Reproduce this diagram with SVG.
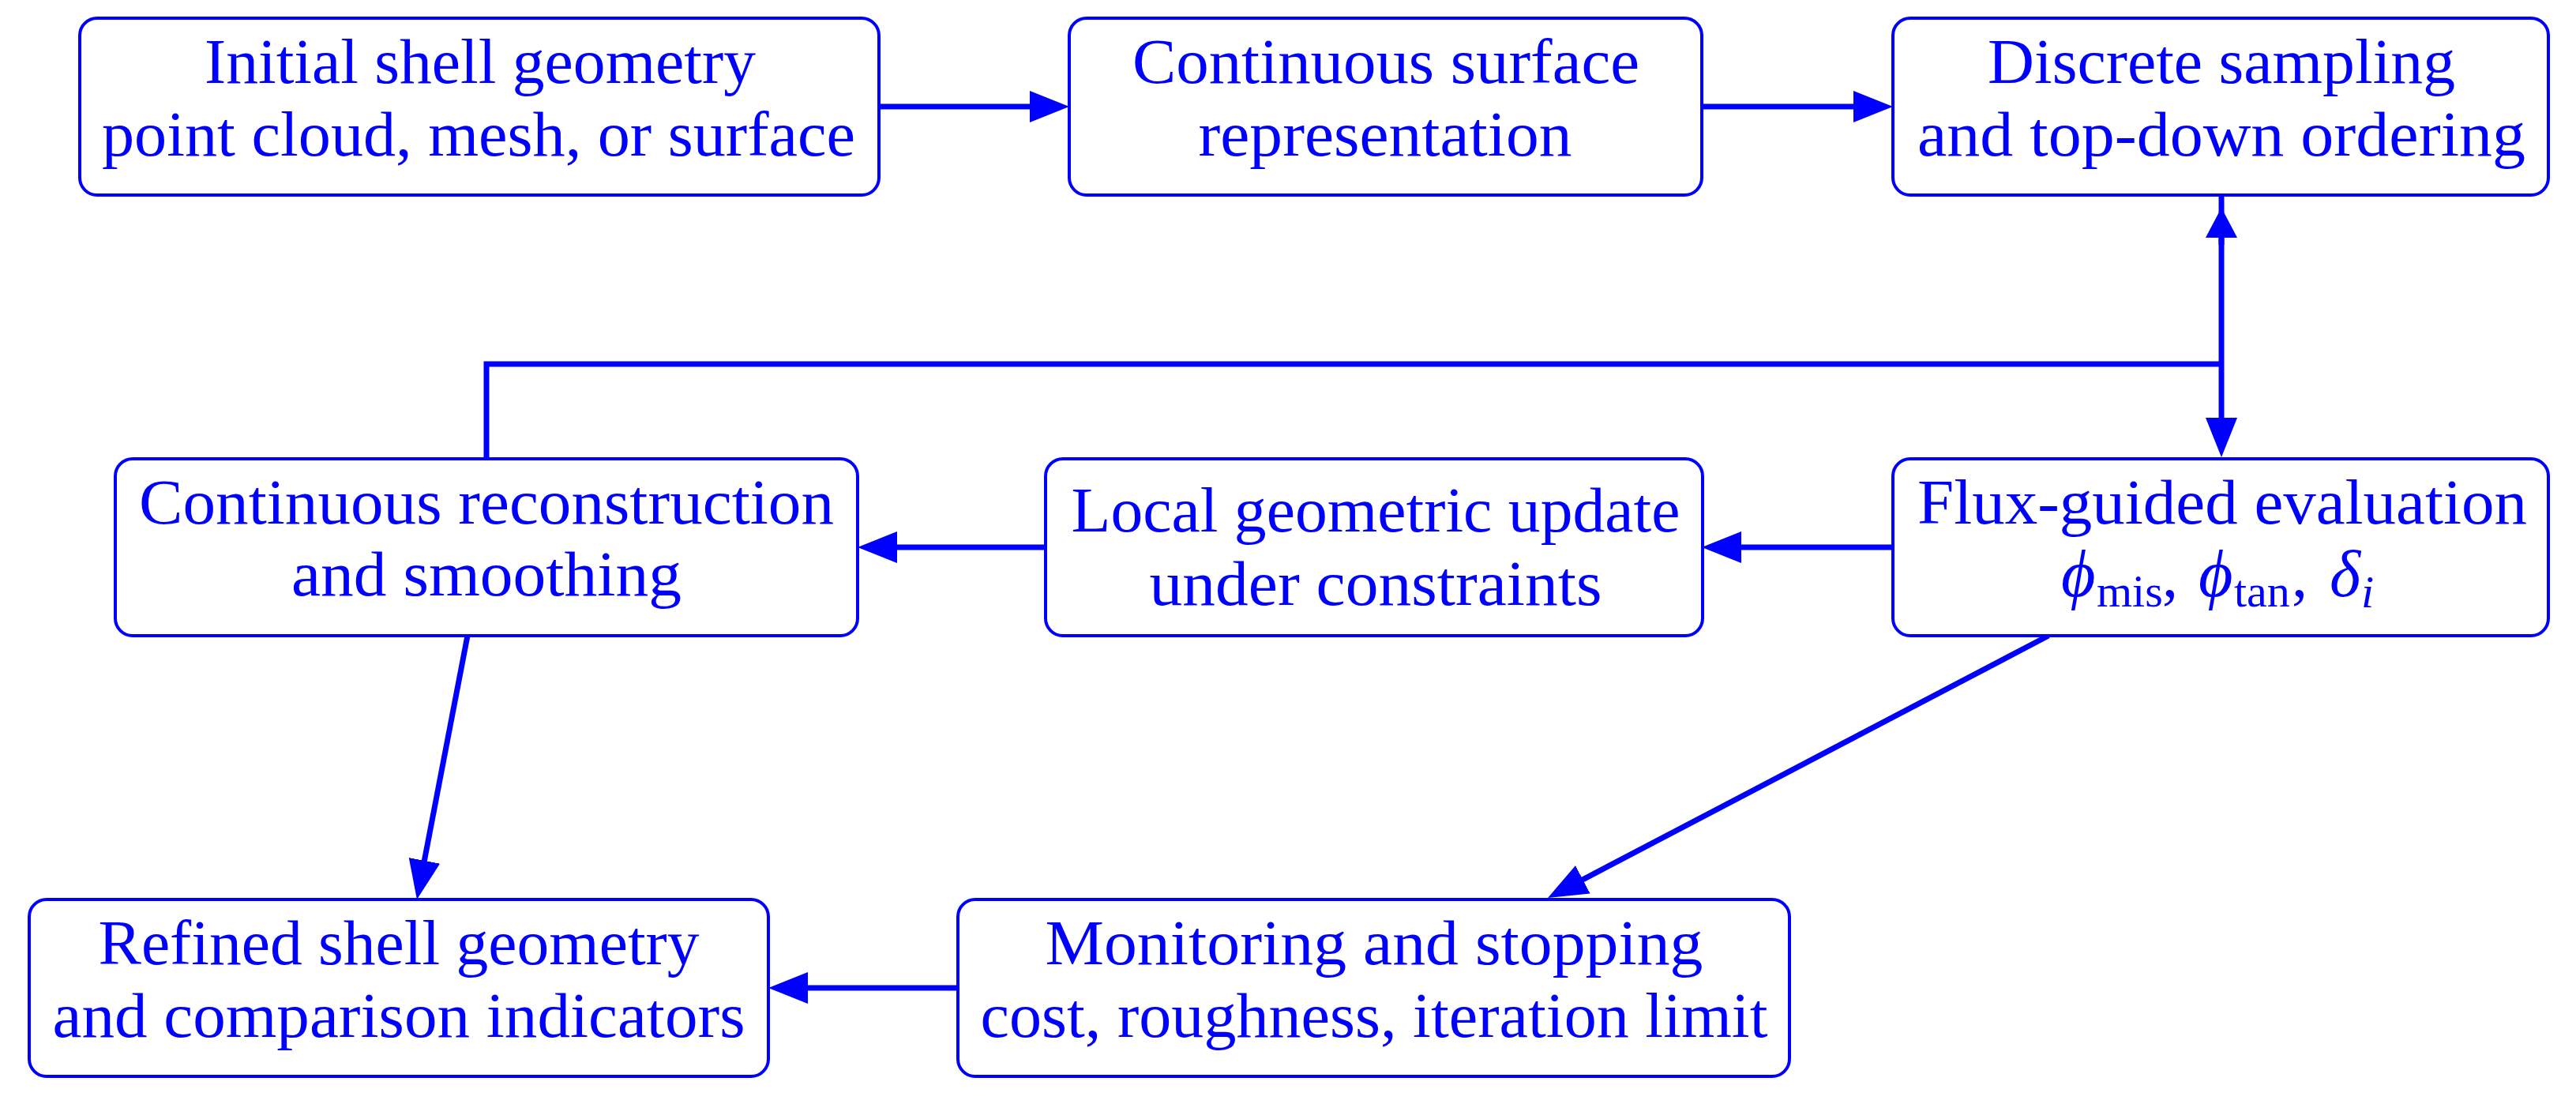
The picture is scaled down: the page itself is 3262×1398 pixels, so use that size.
<svg xmlns="http://www.w3.org/2000/svg" width="3262" height="1398" viewBox="0 0 3262 1398">
<style>
.box{fill:#fff;stroke:#0000ff;stroke-width:4}
.t{font-family:"Liberation Serif","Times New Roman",serif;font-size:80px;fill:#0000ff;text-anchor:middle}
.m{font-family:"Liberation Serif","DejaVu Serif",serif;font-size:80px;fill:#0000ff}
.c{fill:none;stroke:#0000ff;stroke-width:7}
</style>
<defs>
<marker id="arr" markerUnits="userSpaceOnUse" viewBox="0 0 50 40" markerWidth="50" markerHeight="40" refX="20" refY="20" orient="auto"><path d="M0,0 L50,20 L0,40 z" fill="#0000ff"/></marker>
<marker id="arrS" markerUnits="userSpaceOnUse" viewBox="0 0 38 40" markerWidth="38" markerHeight="40" refX="8" refY="20" orient="auto"><path d="M0,0 L38,20 L0,40 z" fill="#0000ff"/></marker>
</defs>
<rect width="3262" height="1398" fill="#fff"/>
<g id="connectors">
<path class="c" d="M1113,135 H1324" marker-end="url(#arr)"/>
<path class="c" d="M2155,135 H2367" marker-end="url(#arr)"/>
<path class="c" d="M2397,693 H2185" marker-end="url(#arr)"/>
<path class="c" d="M1323,693 H1116" marker-end="url(#arr)"/>
<path class="c" d="M1213,1251 H1003" marker-end="url(#arr)"/>
<path class="c" d="M592,805 L533.6,1109.5" marker-end="url(#arr)"/>
<path class="c" d="M2594,805 L1986.6,1123.1" marker-end="url(#arr)"/>
<path class="c" d="M2813,247 V549" marker-end="url(#arr)"/>
<path class="c" d="M2813,310 V293" marker-end="url(#arrS)"/>
<path class="c" d="M2813,461 H616 V581"/>
</g>
<g id="n1">
<rect class="box" x="101" y="23" width="1012" height="224" rx="22"/>
<text class="t" x="608" y="105" textLength="698" lengthAdjust="spacingAndGlyphs">Initial shell geometry</text>
<text class="t" x="606" y="197" textLength="954" lengthAdjust="spacingAndGlyphs">point cloud, mesh, or surface</text>
</g>
<g id="n2">
<rect class="box" x="1354" y="23" width="801" height="224" rx="22"/>
<text class="t" x="1755" y="105" textLength="642" lengthAdjust="spacingAndGlyphs">Continuous surface</text>
<text class="t" x="1754" y="197" textLength="473" lengthAdjust="spacingAndGlyphs">representation</text>
</g>
<g id="n3">
<rect class="box" x="2397" y="23" width="830" height="224" rx="22"/>
<text class="t" x="2813" y="105" textLength="592" lengthAdjust="spacingAndGlyphs">Discrete sampling</text>
<text class="t" x="2813" y="197" textLength="770" lengthAdjust="spacingAndGlyphs">and top-down ordering</text>
</g>
<g id="n4">
<rect class="box" x="146" y="581" width="940" height="224" rx="22"/>
<text class="t" x="616" y="663" textLength="880" lengthAdjust="spacingAndGlyphs">Continuous reconstruction</text>
<text class="t" x="616" y="754" textLength="494" lengthAdjust="spacingAndGlyphs">and smoothing</text>
</g>
<g id="n5">
<rect class="box" x="1324" y="581" width="832" height="224" rx="22"/>
<text class="t" x="1742" y="673" textLength="771" lengthAdjust="spacingAndGlyphs">Local geometric update</text>
<text class="t" x="1742" y="766" textLength="573" lengthAdjust="spacingAndGlyphs">under constraints</text>
</g>
<g id="n6">
<rect class="box" x="2397" y="581" width="830" height="224" rx="22"/>
<text class="t" x="2814" y="663" textLength="772" lengthAdjust="spacingAndGlyphs">Flux-guided evaluation</text>
<text class="m" y="755"><tspan x="2610" font-style="italic" font-size="84">ϕ</tspan><tspan x="2655" y="768" font-size="58">mis</tspan><tspan x="2738" y="755">,</tspan><tspan x="2784" font-style="italic" font-size="84">ϕ</tspan><tspan x="2829" y="768" font-size="58">tan</tspan><tspan x="2902" y="755">,</tspan><tspan x="2950" font-style="italic" font-size="84">δ</tspan><tspan x="2990" y="769" font-size="58" font-style="italic">i</tspan></text>
</g>
<g id="n7">
<rect class="box" x="37" y="1139" width="936" height="224" rx="22"/>
<text class="t" x="505" y="1221" textLength="761" lengthAdjust="spacingAndGlyphs">Refined shell geometry</text>
<text class="t" x="505" y="1313" textLength="877" lengthAdjust="spacingAndGlyphs">and comparison indicators</text>
</g>
<g id="n8">
<rect class="box" x="1213" y="1139" width="1053" height="224" rx="22"/>
<text class="t" x="1740" y="1221" textLength="833" lengthAdjust="spacingAndGlyphs">Monitoring and stopping</text>
<text class="t" x="1740" y="1313" textLength="997" lengthAdjust="spacingAndGlyphs">cost, roughness, iteration limit</text>
</g>
</svg>
